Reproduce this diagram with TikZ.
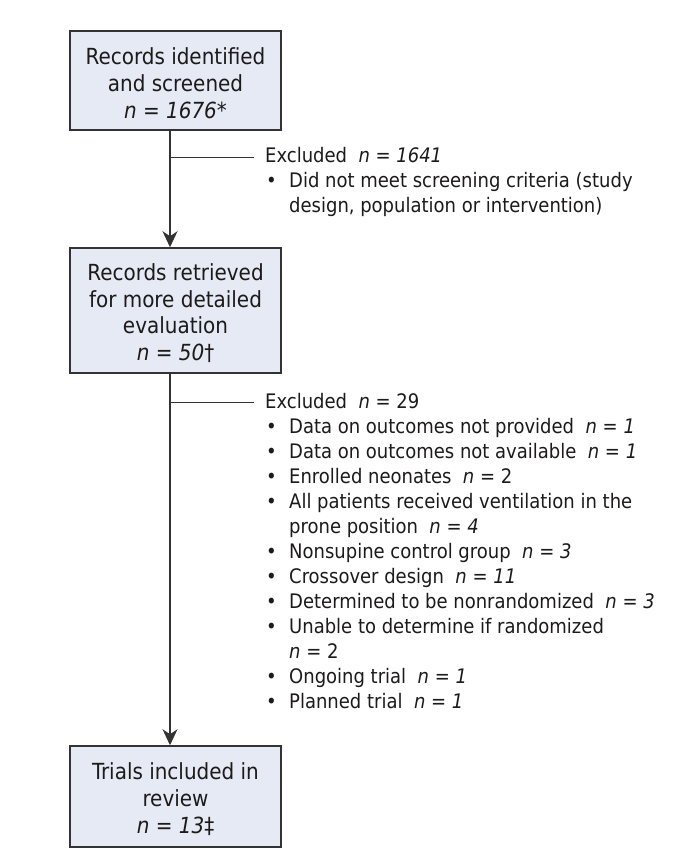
\documentclass[tikz,border=0pt]{standalone}
\usepackage{fontspec}
\setmainfont{DejaVu Sans Condensed}
\usepackage{tikz}
\usetikzlibrary{arrows.meta, positioning, calc}
\definecolor{boxfill}{HTML}{E6EAF4}
\definecolor{edgegray}{HTML}{333333}
\definecolor{inkgray}{HTML}{1C1A1A}
\newcommand{\nval}[1]{\textit{n} = #1}
\newcommand{\bul}{\makebox[24pt][l]{\hspace{1pt}\textbullet}}
\newcommand{\cont}{\hspace*{24pt}}
\newcommand{\topgap}{\rule{0pt}{22pt}}

\begin{document}
\begin{tikzpicture}[x=1pt, y=-1pt,
  stage/.style={rectangle, minimum width=211pt, inner sep=0pt,
    draw=edgegray, line width=1.5pt, fill=boxfill, align=center,
    text=inkgray, font=\fontsize{22.2}{26.7}\selectfont},
  excl/.style={anchor=base west, inner sep=0pt, text=inkgray,
    font=\fontsize{20}{25}\selectfont},
  flow/.style={-{Stealth[length=16pt, width=15pt, inset=5pt]},
    line width=1.5pt, color=edgegray},
  branch/.style={line width=1.5pt, color=edgegray}
]
  \useasboundingbox (0,0) rectangle (700,866);

  \node[stage, minimum height=99pt] (rec) at (175.5, 80.5)
    {\topgap Records identified\\and screened\\\nval{\textit{1676*}}};
  \node[stage, minimum height=125pt] (ret) at (175.5, 310.5)
    {\topgap Records retrieved\\for more detailed\\evaluation\\\nval{\textit{50}†}};
  \node[stage, minimum height=101pt] (inc) at (175.5, 796.5)
    {\topgap Trials included in\\review\\\nval{\textit{13}‡}};

  \node[excl] (ex1) at (265, 163) {\begin{tabular}[t]{@{}l@{}}
    Excluded\ \ \nval{\textit{1641}}\\
    \bul Did not meet screening criteria (study\\
    \cont design, population or intervention)
  \end{tabular}};

  \node[excl] (ex2) at (265, 408) {\begin{tabular}[t]{@{}l@{}}
    Excluded\ \ \nval{29}\\
    \bul Data on outcomes not provided\ \ \nval{\textit{1}}\\
    \bul Data on outcomes not available\ \ \nval{\textit{1}}\\
    \bul Enrolled neonates\ \ \nval{2}\\
    \bul All patients received ventilation in the\\
    \cont prone position\ \ \nval{\textit{4}}\\
    \bul Nonsupine control group\ \ \nval{\textit{3}}\\
    \bul Crossover design\ \ \nval{\textit{11}}\\
    \bul Determined to be nonrandomized\ \ \nval{\textit{3}}\\
    \bul Unable to determine if randomized\\
    \cont \nval{2}\\
    \bul Ongoing trial\ \ \nval{\textit{1}}\\
    \bul Planned trial\ \ \nval{\textit{1}}
  \end{tabular}};

  \coordinate (trunk) at ([xshift=-5.5pt]rec.south);
  \draw[flow] (trunk) -- ([xshift=-5.5pt]ret.north);
  \draw[flow] ([xshift=-5.5pt]ret.south) -- ([xshift=-5.5pt]inc.north);

  \foreach \e in {ex1, ex2}{
    \coordinate (\e tip) at ([xshift=-11pt, yshift=5.5pt]\e.base west);
    \draw[branch] (\e tip -| trunk) -- (\e tip);
  }
\end{tikzpicture}
\end{document}
